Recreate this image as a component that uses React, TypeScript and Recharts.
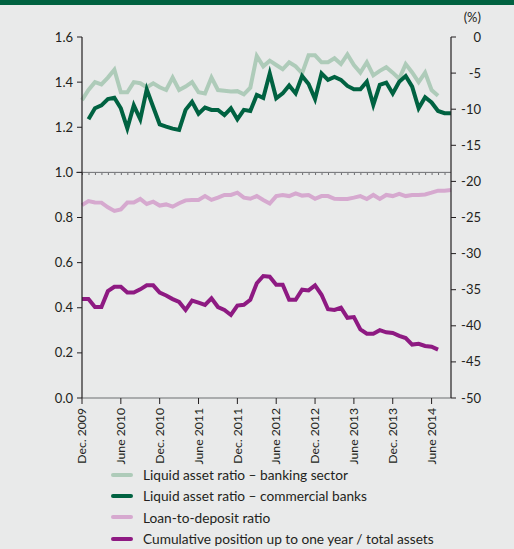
import React from "react";
import { LineChart, Line, XAxis, YAxis, ReferenceLine } from "recharts";

// Monthly observations, Dec. 2009 – Sept. 2014
const startYear = 2009;
const startMonth = 11; // December (0-based)
const monthCount = 58;

const months: string[] = [];
for (let i = 0; i < monthCount; i++) {
  const m = (startMonth + i) % 12;
  const y = startYear + Math.floor((startMonth + i) / 12);
  months.push(`${y}-${String(m + 1).padStart(2, "0")}`);
}

// Liquid asset ratio – banking sector (left axis)
const bankingSector: (number | null)[] = [
  1.32, 1.365, 1.4, 1.39, 1.42, 1.455, 1.355, 1.355, 1.4, 1.395,
  1.377, 1.395, 1.377, 1.365, 1.42, 1.365, 1.38, 1.4, 1.355, 1.35,
  1.42, 1.365, 1.362, 1.358, 1.36, 1.346, 1.375, 1.516, 1.47, 1.495,
  1.476, 1.457, 1.488, 1.47, 1.439, 1.519, 1.519, 1.488, 1.488, 1.506,
  1.48, 1.523, 1.476, 1.442, 1.488, 1.43, 1.45, 1.466, 1.442, 1.415,
  1.48, 1.443, 1.4, 1.442, 1.365, 1.34, null, null,
];

// Liquid asset ratio – commercial banks (left axis)
const commercialBanks: (number | null)[] = [
  null, 1.235, 1.284, 1.297, 1.325, 1.331, 1.284, 1.195, 1.297, 1.235,
  1.368, 1.29, 1.213, 1.203, 1.194, 1.188, 1.277, 1.313, 1.26, 1.287,
  1.277, 1.277, 1.254, 1.284, 1.235, 1.277, 1.272, 1.343, 1.33, 1.439,
  1.328, 1.35, 1.385, 1.35, 1.427, 1.392, 1.325, 1.439, 1.41, 1.423,
  1.41, 1.383, 1.368, 1.368, 1.402, 1.299, 1.388, 1.398, 1.35, 1.402,
  1.427, 1.38, 1.284, 1.333, 1.31, 1.272, 1.262, 1.262,
];

// Loan-to-deposit ratio (left axis)
const loanToDeposit: (number | null)[] = [
  0.855, 0.873, 0.867, 0.866, 0.845, 0.829, 0.836, 0.866, 0.866, 0.882,
  0.86, 0.87, 0.853, 0.858, 0.848, 0.863, 0.876, 0.878, 0.878, 0.895,
  0.878, 0.888, 0.9, 0.9, 0.91, 0.888, 0.883, 0.895, 0.878, 0.862,
  0.895, 0.9, 0.895, 0.907, 0.897, 0.9, 0.883, 0.895, 0.895, 0.883,
  0.882, 0.882, 0.888, 0.895, 0.882, 0.9, 0.882, 0.9, 0.895, 0.905,
  0.895, 0.9, 0.9, 0.902, 0.91, 0.919, 0.919, 0.922,
];

// Cumulative position up to one year / total assets, % (right axis)
const cumulativePosition: (number | null)[] = [
  -36.3, -36.3, -37.4, -37.4, -35.2, -34.6, -34.6, -35.4, -35.4, -34.95,
  -34.4, -34.4, -35.4, -35.8, -36.3, -36.7, -37.8, -36.5, -36.8, -37.1,
  -36.2, -37.4, -37.8, -38.5, -37.2, -37.1, -36.4, -34.1, -33.1, -33.2,
  -34.3, -34.3, -36.4, -36.4, -35.0, -35.1, -34.4, -35.7, -37.7, -37.8,
  -37.5, -38.9, -38.8, -40.5, -41.1, -41.1, -40.6, -40.9, -41.0, -41.4,
  -41.7, -42.6, -42.5, -42.8, -42.9, -43.3, null, null,
];

const leftTicks = [0, 0.2, 0.4, 0.6, 0.8, 1.0, 1.2, 1.4, 1.6];
const rightTicks = [-50, -45, -40, -35, -30, -25, -20, -15, -10, -5, 0];

const series = [
  { key: "banking", name: "Liquid asset ratio – banking sector", color: "#aecbb9", axis: "left" },
  { key: "commercial", name: "Liquid asset ratio – commercial banks", color: "#006241", axis: "left" },
  { key: "ltd", name: "Loan-to-deposit ratio", color: "#d6a9cf", axis: "left" },
  { key: "cumulative", name: "Cumulative position up to one year / total assets", color: "#8e1a82", axis: "right" },
];

const data = months.map((month, i) => ({
  month,
  banking: bankingSector[i],
  commercial: commercialBanks[i],
  ltd: loanToDeposit[i],
  cumulative: cumulativePosition[i],
}));

const FONT = "Lato, 'Noto Sans', sans-serif";
const TEXT = "#231f20";

const formatMonth = (key: string) => {
  const [y, m] = key.split("-").map(Number);
  if (m === 12) return `Dec. ${y}`;
  if (m === 6) return `June ${y}`;
  return "";
};

const XTick = (props: any) => {
  const { x, y, payload } = props;
  return (
    <text
      x={x}
      y={y + 2}
      transform={`rotate(-90, ${x}, ${y + 2})`}
      textAnchor="end"
      dy="0.35em"
      fontSize={12.2}
      fill={TEXT}
      fontFamily={FONT}
    >
      {formatMonth(payload.value)}
    </text>
  );
};

const RightTick = (props: any) => {
  const { y, payload } = props;
  return (
    <text x={481} y={y} dy="0.35em" textAnchor="end" fontSize={13} fill={TEXT} fontFamily={FONT}>
      {payload.value}
    </text>
  );
};

// Horizontal rule at 1.0 with small monthly tick marks hanging below it
const UnitRule = (props: any) => {
  const { x1, x2, y1 } = props;
  const step = (x2 - x1) / (monthCount - 1);
  return (
    <g>
      <line x1={x1 - 6} x2={x2} y1={y1} y2={y1} stroke="#6d6e71" strokeWidth={1} />
      <line
        x1={x1}
        x2={x2}
        y1={y1 + 1.5}
        y2={y1 + 1.5}
        stroke="#6d6e71"
        strokeWidth={2}
        strokeDasharray={`1 ${step - 1}`}
      />
    </g>
  );
};

export default function App() {
  return (
    <div
      style={{
        position: "absolute",
        top: 0,
        left: 0,
        width: 514,
        height: 549,
        background: "#e9eaea",
        fontFamily: FONT,
        overflow: "hidden",
      }}
    >
      <div style={{ position: "absolute", top: 0, left: 0, width: 514, height: 5, background: "#006241" }} />
      <div
        style={{
          position: "absolute",
          top: 9,
          right: 33,
          fontSize: 13,
          color: TEXT,
        }}
      >
        (%)
      </div>
      <div style={{ position: "absolute", top: 0, left: 0 }}>
        <LineChart
          width={514}
          height={549}
          data={data}
          margin={{ top: 37, right: 0, bottom: 91, left: 0 }}
        >
          <XAxis
            dataKey="month"
            interval={5}
            tick={<XTick />}
            tickSize={6}
            stroke="#6d6e71"
            axisLine={{ stroke: "#6d6e71", strokeWidth: 1.2 }}
            tickLine={{ stroke: "#231f20" }}
            height={60}
          />
          <YAxis
            yAxisId="left"
            width={82}
            domain={[0, 1.6]}
            ticks={leftTicks}
            tickFormatter={(v: number) => v.toFixed(1)}
            tick={{ fontSize: 13, fill: TEXT, fontFamily: FONT }}
            tickSize={5}
            tickMargin={4}
            axisLine={{ stroke: "#231f20", strokeWidth: 1.2 }}
            tickLine={{ stroke: "#231f20" }}
            interval={0}
          />
          <YAxis
            yAxisId="right"
            orientation="right"
            width={63}
            domain={[-50, 0]}
            ticks={rightTicks}
            tick={<RightTick />}
            tickSize={5}
            axisLine={{ stroke: "#231f20", strokeWidth: 1.2 }}
            tickLine={{ stroke: "#231f20" }}
            interval={0}
          />
          <ReferenceLine yAxisId="left" y={1.0} shape={<UnitRule />} />
          {series.map((s) => (
            <Line
              key={s.key}
              yAxisId={s.axis}
              dataKey={s.key}
              name={s.name}
              type="linear"
              stroke={s.color}
              strokeWidth={4}
              dot={false}
              activeDot={false}
              isAnimationActive={false}
            />
          ))}
        </LineChart>
      </div>
      <div style={{ position: "absolute", left: 111, top: 464 }}>
        {series.map((s) => (
          <div key={s.key} style={{ display: "flex", alignItems: "center", height: 21.3 }}>
            <div style={{ width: 22, height: 4, background: s.color, borderRadius: 2, marginRight: 10 }} />
            <span style={{ fontSize: 13.7, color: TEXT, whiteSpace: "nowrap" }}>{s.name}</span>
          </div>
        ))}
      </div>
    </div>
  );
}
